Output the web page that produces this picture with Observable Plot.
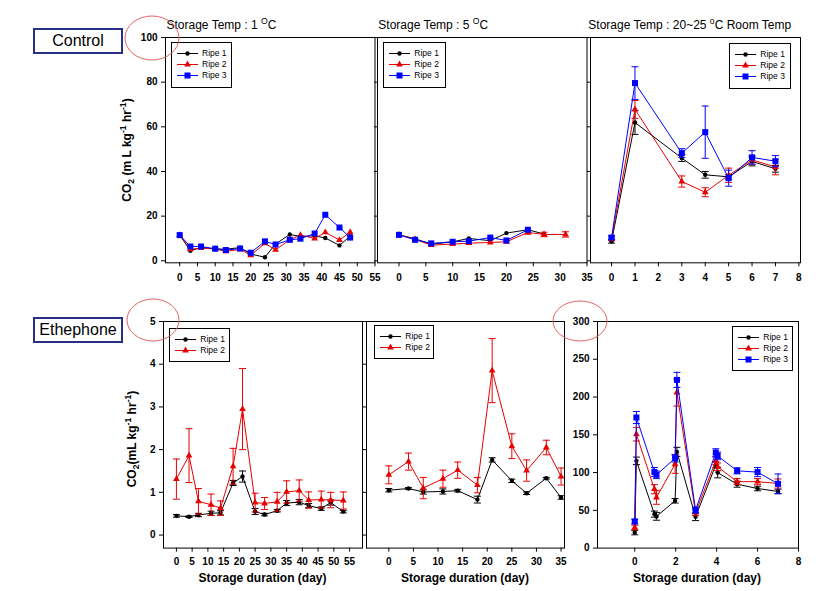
<!DOCTYPE html>
<html><head><meta charset="utf-8">
<script src="https://cdn.jsdelivr.net/npm/d3@7"></script>
<script src="https://cdn.jsdelivr.net/npm/@observablehq/plot@0.6"></script>
<style>
body{margin:0;background:#fff;}
#root{position:relative;width:818px;height:591px;background:#fff;overflow:hidden;font-family:"Liberation Sans",Arial,sans-serif;color:#000;}
.abs{position:absolute;}
.title{font-size:12px;line-height:14px;white-space:nowrap;}
.ytitle{font-size:12px;line-height:14px;font-weight:bold;white-space:nowrap;transform:translate(-50%,-50%) rotate(-90deg);}
.xtitle{font-size:12px;line-height:14px;font-weight:bold;white-space:nowrap;transform:translate(-50%,-50%);}
.box{border:2px solid #2a2f86;box-sizing:border-box;font-size:16px;text-align:center;background:#fff;}
.legend{border:1px solid #000;background:#fff;box-sizing:border-box;font-size:8.5px;padding-top:5px;}
.legend .row{display:flex;align-items:center;height:11px;line-height:11px;}
.legend svg{margin-left:5px;margin-right:4px;flex:none;}
sup,sub{font-size:0.72em;line-height:0;}
</style></head><body><div id="root"></div><script>
// ---------- series definitions ----------
const seriesNames = ["Ripe 1", "Ripe 2", "Ripe 3"];
const seriesColors = ["#000000", "#e60000", "#0000ff"];
const seriesSymbols = ["circle", "triangle", "square"];

// ---------- Control, 1 °C ----------
const c1Days = [0, 3, 6, 10, 13, 17, 20, 24, 27, 31, 34, 38, 41, 45, 48];
const c1Ripe1 = [11.5, 4.5, 5.9, 5.3, 5.2, 5.9, 3.0, 1.6, 7.5, 11.8, 10.9, 11.2, 10.2, 6.9, 11.0];
const c1Ripe2 = [11.5, 5.1, 5.7, 5.3, 4.2, 5.1, 2.5, 7.8, 4.9, 9.4, 11.5, 10.0, 12.7, 9.3, 12.8];
const c1Ripe3 = [11.5, 6.4, 6.4, 5.4, 4.8, 5.5, 3.6, 8.7, 7.3, 9.4, 9.9, 12.2, 20.6, 14.9, 10.4];

// ---------- Control, 5 °C ----------
const c5DaysRipe1 = [0, 3, 6, 10, 13, 17, 20, 24, 27];
const c5Ripe1 = [11.6, 9.9, 7.4, 8.5, 10.0, 9.0, 12.4, 13.9, 12.0];
const c5DaysRipe2 = [0, 3, 6, 10, 13, 17, 20, 24, 27, 31];
const c5Ripe2 = [11.6, 9.6, 7.0, 7.5, 7.9, 8.2, 8.5, 12.7, 11.8, 11.8];
const c5Ripe2Err = [0, 0, 0, 0, 0, 0, 0, 0.8, 1.0, 1.2];
const c5DaysRipe3 = [0, 3, 6, 10, 13, 17, 20, 24];
const c5Ripe3 = [11.6, 9.4, 7.8, 8.5, 8.8, 10.4, 9.1, 13.9];

// ---------- Control, room temp ----------
const cRDays = [0, 1, 3, 4, 5, 6, 7];
const cRRipe1 = [8.7, 61.9, 46.0, 38.5, 37.6, 44.5, 41.2];
const cRRipe1Err = [0.8, 5.3, 1.5, 1.5, 1.0, 2.0, 1.5];
const cRRipe2 = [9.8, 67.8, 35.5, 30.7, 38.3, 45.2, 42.0];
const cRRipe2Err = [0.8, 4.0, 2.5, 2.0, 3.2, 2.0, 3.5];
const cRRipe3 = [10.4, 79.6, 48.2, 57.6, 37.0, 46.3, 44.6];
const cRRipe3Err = [0.8, 7.3, 2.0, 11.7, 3.6, 3.0, 2.5];

// ---------- Ethephone, 1 °C ----------
const e1Days = [0, 4, 7, 11, 14, 18, 21, 25, 28, 32, 35, 39, 42, 46, 49, 53];
const e1Ripe1 = [0.45, 0.43, 0.47, 0.51, 0.52, 1.22, 1.37, 0.55, 0.48, 0.57, 0.75, 0.77, 0.69, 0.62, 0.76, 0.55];
const e1Ripe1Err = [0.03, 0.02, 0.04, 0.05, 0.05, 0.06, 0.13, 0.07, 0.03, 0.03, 0.06, 0.06, 0.05, 0.04, 0.06, 0.03];
const e1Ripe2 = [1.31, 1.86, 0.79, 0.71, 0.63, 1.61, 2.95, 0.76, 0.74, 0.78, 1.01, 1.04, 0.82, 0.83, 0.82, 0.81];
const e1Ripe2Err = [0.47, 0.63, 0.30, 0.25, 0.17, 0.42, 0.95, 0.22, 0.14, 0.22, 0.26, 0.25, 0.19, 0.20, 0.18, 0.20];

// ---------- Ethephone, 5 °C ----------
const e5Days = [0, 4, 7, 11, 14, 18, 21, 25, 28, 32, 35];
const e5Ripe1 = [1.05, 1.09, 1.01, 1.02, 1.04, 0.83, 1.76, 1.27, 0.98, 1.33, 0.88];
const e5Ripe1Err = [0.04, 0.02, 0.05, 0.06, 0.03, 0.08, 0.05, 0.04, 0.03, 0.02, 0.04];
const e5Ripe2 = [1.41, 1.72, 1.10, 1.32, 1.52, 1.17, 3.85, 2.08, 1.51, 2.05, 1.37];
const e5Ripe2Err = [0.21, 0.20, 0.25, 0.20, 0.19, 0.18, 0.75, 0.29, 0.25, 0.17, 0.20];

// ---------- Ethephone, room temp ----------
const eRDays = [0, 0.08, 0.96, 1.06, 1.97, 2.06, 2.97, 3.96, 4.05, 5, 6, 7];
const eRRipe1 = [20.6, 115.5, 45.0, 41.9, 62.6, 127.4, 41.4, 110.2, 100.0, 84.6, 78.9, 75.0];
const eRRipe1Err = [3, 5, 4, 5, 3, 6, 5, 4, 7, 4, 3, 3];
const eRRipe2 = [27.3, 150.8, 78.0, 67.0, 111.0, 206.0, 47.0, 115.5, 107.6, 88.0, 88.0, 85.5];
const eRRipe2Err = [3, 9, 6, 9, 12, 18, 4, 5, 5, 4, 4, 6];
const eRRipe3 = [35.2, 172.9, 100.6, 97.0, 119.0, 222.7, 50.3, 126.5, 122.0, 102.3, 100.6, 85.1];
const eRRipe3Err = [3, 8, 6, 5, 5, 10, 4, 5, 5, 4, 6, 13];

// ---------- tick labels ----------
const xTicks55 = [0, 5, 10, 15, 20, 25, 30, 35, 40, 45, 50, 55];
const xTicks35 = [0, 5, 10, 15, 20, 25, 30, 35];
const xTicks8 = [0, 1, 2, 3, 4, 5, 6, 7, 8];
const xTicks8b = [0, 2, 4, 6, 8];
const yTicksTop = [0, 20, 40, 60, 80, 100];
const yTicksBot = [0, 1, 2, 3, 4, 5];
const yTicksBotR = [0, 50, 100, 150, 200, 250, 300];

// ---------- build ----------
const root = document.getElementById("root");
const FONT = "'Liberation Sans', Arial, sans-serif";
const capSymbol = {draw(ctx) { ctx.moveTo(-3.5, 0); ctx.lineTo(3.5, 0); }};
const dotR = [2.2, 2.5, 3.4];

function makeSeries(idx, days, vals, errs) {
  return {idx, data: days.map((d, i) => ({x: d, y: vals[i], e: errs ? errs[i] : 0}))};
}

function panel(cfg) {
  const ml = 45, mt = 10, mr = 12, mb = 45;
  const W = cfg.R - cfg.L, H = cfg.B - cfg.T;
  const marks = [
    Plot.frame({stroke: "#000", strokeWidth: 1}),
    Plot.axisX(cfg.xticks, {tickSize: 4, tickPadding: cfg.xpad, fontSize: 10, fontWeight: "bold", label: null}),
    Plot.axisY(cfg.yticks, {tickSize: cfg.ylabels ? 4 : 3, tickPadding: 4, fontSize: 10, fontWeight: "bold", label: null,
      tickFormat: cfg.ylabels ? (d => String(d)) : (() => "")})
  ];
  for (const s of cfg.series) {
    const col = seriesColors[s.idx];
    const ed = s.data.filter(d => d.e > 0);
    if (ed.length) {
      marks.push(Plot.ruleX(ed, {x: "x", y1: d => d.y - d.e, y2: d => d.y + d.e, stroke: col, strokeWidth: 1}));
      marks.push(Plot.dot(ed, {x: "x", y: d => d.y - d.e, symbol: capSymbol, stroke: col, fill: "none", strokeWidth: 1}));
      marks.push(Plot.dot(ed, {x: "x", y: d => d.y + d.e, symbol: capSymbol, stroke: col, fill: "none", strokeWidth: 1}));
    }
    marks.push(Plot.line(s.data, {x: "x", y: "y", stroke: col, strokeWidth: 1}));
    marks.push(Plot.dot(s.data, {x: "x", y: "y", symbol: seriesSymbols[s.idx], r: dotR[s.idx], fill: col, stroke: "none"}));
  }
  const svg = Plot.plot({
    width: W + ml + mr, height: H + mt + mb,
    marginLeft: ml, marginRight: mr, marginTop: mt, marginBottom: mb,
    x: {domain: cfg.xdom, label: null},
    y: {domain: cfg.ydom, label: null},
    style: {fontFamily: FONT, fontSize: "10px", fontWeight: "bold", background: "transparent", overflow: "visible"},
    marks
  });
  svg.style.position = "absolute";
  svg.style.left = (cfg.L - ml) + "px";
  svg.style.top = (cfg.T - mt) + "px";
  svg.style.maxWidth = "none";
  svg.style.background = "transparent";
  root.appendChild(svg);

  // legend
  const lg = document.createElement("div");
  lg.className = "legend abs";
  lg.style.left = cfg.legend[0] + "px";
  lg.style.top = cfg.legend[1] + "px";
  lg.style.width = cfg.legend[2] + "px";
  lg.style.height = cfg.legend[3] + "px";
  for (const s of cfg.series) {
    const row = document.createElement("div");
    row.className = "row";
    const col = seriesColors[s.idx];
    const sym = {circle: d3.symbolCircle, triangle: d3.symbolTriangle, square: d3.symbolSquare}[seriesSymbols[s.idx]];
    const path = d3.symbol(sym, Math.PI * dotR[s.idx] * dotR[s.idx])();
    row.innerHTML = `<svg width="21" height="9" viewBox="0 0 21 9"><line x1="0" x2="21" y1="4.5" y2="4.5" stroke="${col}" stroke-width="1"/><path transform="translate(10.5,4.5)" d="${path}" fill="${col}"/></svg><span>${seriesNames[s.idx]}</span>`;
    lg.appendChild(row);
  }
  root.appendChild(lg);
}

const topY = [-0.9, 100];
panel({L: 165, R: 374.5, T: 36.7, B: 262, xdom: [-4, 55], ydom: topY, xticks: xTicks55, yticks: yTicksTop, ylabels: true, xpad: 7,
  legend: [171, 41.7, 61.3, 46],
  series: [makeSeries(0, c1Days, c1Ripe1), makeSeries(1, c1Days, c1Ripe2), makeSeries(2, c1Days, c1Ripe3)]});
panel({L: 376.8, R: 586.3, T: 36.7, B: 262, xdom: [-4, 35], ydom: topY, xticks: xTicks35, yticks: yTicksTop, ylabels: false, xpad: 7,
  legend: [383.3, 41.7, 62.4, 46],
  series: [makeSeries(0, c5DaysRipe1, c5Ripe1), makeSeries(1, c5DaysRipe2, c5Ripe2, c5Ripe2Err), makeSeries(2, c5DaysRipe3, c5Ripe3)]});
panel({L: 590, R: 800, T: 36.7, B: 262, xdom: [-0.9, 8.07], ydom: topY, xticks: xTicks8, yticks: yTicksTop, ylabels: false, xpad: 7,
  legend: [729.3, 42.7, 61.4, 46],
  series: [makeSeries(0, cRDays, cRRipe1, cRRipe1Err), makeSeries(1, cRDays, cRRipe2, cRRipe2Err), makeSeries(2, cRDays, cRRipe3, cRRipe3Err)]});

const botY = [-0.305, 5];
panel({L: 163, R: 362, T: 320.7, B: 547.3, xdom: [-4.1, 59.1], ydom: botY, xticks: xTicks55, yticks: yTicksBot, ylabels: true, xpad: 6,
  legend: [169.3, 328.3, 60.7, 34],
  series: [makeSeries(0, e1Days, e1Ripe1, e1Ripe1Err), makeSeries(1, e1Days, e1Ripe2, e1Ripe2Err)]});
panel({L: 366, R: 564, T: 320.7, B: 547.3, xdom: [-4.53, 35.7], ydom: botY, xticks: xTicks35, yticks: yTicksBot, ylabels: false, xpad: 6,
  legend: [374.3, 325, 60, 34.3],
  series: [makeSeries(0, e5Days, e5Ripe1, e5Ripe1Err), makeSeries(1, e5Days, e5Ripe2, e5Ripe2Err)]});
panel({L: 597.3, R: 798.3, T: 320.7, B: 547.3, xdom: [-1.82, 8], ydom: [0, 300], xticks: xTicks8b, yticks: yTicksBotR, ylabels: true, xpad: 6,
  legend: [732.3, 325.7, 61, 45],
  series: [makeSeries(0, eRDays, eRRipe1, eRRipe1Err), makeSeries(1, eRDays, eRRipe2, eRRipe2Err), makeSeries(2, eRDays, eRRipe3, eRRipe3Err)]});

// ---------- texts ----------
function addDiv(cls, html, left, top, extra) {
  const d = document.createElement("div");
  d.className = cls + " abs";
  d.innerHTML = html;
  d.style.left = left + "px";
  d.style.top = top + "px";
  if (extra) Object.assign(d.style, extra);
  root.appendChild(d);
  return d;
}
addDiv("title", "Storage Temp : 1 <sup>O</sup>C", 166.5, 17.5);
addDiv("title", "Storage Temp : 5 <sup>O</sup>C", 378.3, 17.5);
addDiv("title", "Storage Temp : 20~25 <sup>o</sup>C Room Temp", 588.3, 17.5);
addDiv("ytitle", "CO<sub>2</sub> (m L kg<sup>-1</sup> hr<sup>-1</sup>)", 127, 150);
addDiv("ytitle", "CO<sub>2</sub>(mL kg<sup>-1</sup> hr<sup>-1</sup>)", 132, 438.5);
addDiv("xtitle", "Storage duration (day)", 262.5, 578);
addDiv("xtitle", "Storage duration (day)", 465, 578);
addDiv("xtitle", "Storage duration (day)", 697, 578);
addDiv("box", "Control", 33, 28, {width: "90px", height: "26px", lineHeight: "22px"});
addDiv("box", "Ethephone", 33, 317, {width: "90px", height: "26px", lineHeight: "22px"});

// annotation ellipses
const ov = document.createElementNS("http://www.w3.org/2000/svg", "svg");
ov.setAttribute("width", 818); ov.setAttribute("height", 591);
ov.style.position = "absolute"; ov.style.left = "0"; ov.style.top = "0"; ov.style.pointerEvents = "none";
ov.innerHTML = `<ellipse cx="152" cy="38" rx="27" ry="22" fill="none" stroke="#e06666" stroke-width="1"/>
<ellipse cx="153" cy="320" rx="26" ry="21" fill="none" stroke="#e06666" stroke-width="1"/>
<ellipse cx="580" cy="321" rx="27" ry="20" fill="none" stroke="#e06666" stroke-width="1"/>`;
root.appendChild(ov);
</script></body></html>
